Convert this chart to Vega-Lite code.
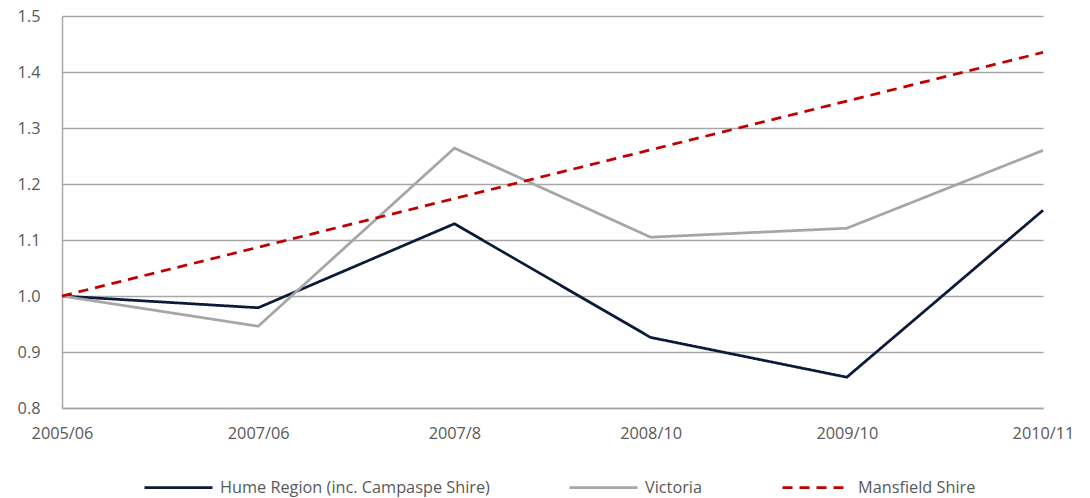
{
  "$schema": "https://vega.github.io/schema/vega-lite/v6.json",
  "width": 981,
  "height": 392,
  "autosize": {"type": "none"},
  "padding": {"left": 62, "top": 16, "right": 47, "bottom": 90},
  "background": "white",
  "config": {
    "view": {"stroke": null},
    "font": "Open Sans"
  },
  "data": {
    "values": [
      {"year": "2005/06", "series": "Hume Region (inc. Campaspe Shire)", "value": 1.0},
      {"year": "2007/06", "series": "Hume Region (inc. Campaspe Shire)", "value": 0.979},
      {"year": "2007/8", "series": "Hume Region (inc. Campaspe Shire)", "value": 1.129},
      {"year": "2008/10", "series": "Hume Region (inc. Campaspe Shire)", "value": 0.926},
      {"year": "2009/10", "series": "Hume Region (inc. Campaspe Shire)", "value": 0.855},
      {"year": "2010/11", "series": "Hume Region (inc. Campaspe Shire)", "value": 1.153},
      {"year": "2005/06", "series": "Victoria", "value": 1.0},
      {"year": "2007/06", "series": "Victoria", "value": 0.946},
      {"year": "2007/8", "series": "Victoria", "value": 1.264},
      {"year": "2008/10", "series": "Victoria", "value": 1.105},
      {"year": "2009/10", "series": "Victoria", "value": 1.121},
      {"year": "2010/11", "series": "Victoria", "value": 1.26},
      {"year": "2005/06", "series": "Mansfield Shire", "value": 1.0},
      {"year": "2007/06", "series": "Mansfield Shire", "value": 1.087},
      {"year": "2007/8", "series": "Mansfield Shire", "value": 1.174},
      {"year": "2008/10", "series": "Mansfield Shire", "value": 1.261},
      {"year": "2009/10", "series": "Mansfield Shire", "value": 1.348},
      {"year": "2010/11", "series": "Mansfield Shire", "value": 1.435}
    ]
  },
  "mark": {"type": "line", "strokeWidth": 2.75},
  "encoding": {
    "x": {
      "field": "year",
      "type": "ordinal",
      "sort": null,
      "scale": {"type": "point", "padding": 0},
      "axis": {
        "title": null,
        "labelAngle": 0,
        "labelFontSize": 16.3,
        "labelColor": "#595959",
        "labelPadding": 17,
        "ticks": false,
        "domainColor": "#a6a6a6",
        "domainWidth": 1.5,
        "grid": false
      }
    },
    "y": {
      "field": "value",
      "type": "quantitative",
      "scale": {"domain": [0.8, 1.5], "nice": false, "zero": false},
      "axis": {
        "title": null,
        "values": [0.8, 0.9, 1.0, 1.1, 1.2, 1.3, 1.4, 1.5],
        "format": ".1f",
        "labelFontSize": 16.3,
        "labelColor": "#595959",
        "labelPadding": 22,
        "ticks": false,
        "domainColor": "#a6a6a6",
        "domainWidth": 1.5,
        "gridColor": "#a6a6a6",
        "gridWidth": 1.5
      }
    },
    "color": {
      "field": "series",
      "type": "nominal",
      "sort": ["Hume Region (inc. Campaspe Shire)", "Victoria", "Mansfield Shire"],
      "scale": {
        "domain": ["Hume Region (inc. Campaspe Shire)", "Victoria", "Mansfield Shire"],
        "range": ["#0c1a3a", "#a6a6a6", "#c00000"]
      },
      "legend": {
        "title": null,
        "orient": "none",
        "legendX": 81,
        "legendY": 436,
        "direction": "horizontal",
        "symbolType": "stroke",
        "symbolSize": 4624,
        "symbolStrokeWidth": 2.75,
        "labelFontSize": 16.3,
        "labelColor": "#595959",
        "labelLimit": 0,
        "labelOffset": 6,
        "columnPadding": 74
      }
    },
    "strokeDash": {
      "field": "series",
      "type": "nominal",
      "scale": {
        "domain": ["Hume Region (inc. Campaspe Shire)", "Victoria", "Mansfield Shire"],
        "range": [[1, 0], [1, 0], [10, 7]]
      },
      "legend": null
    }
  }
}
